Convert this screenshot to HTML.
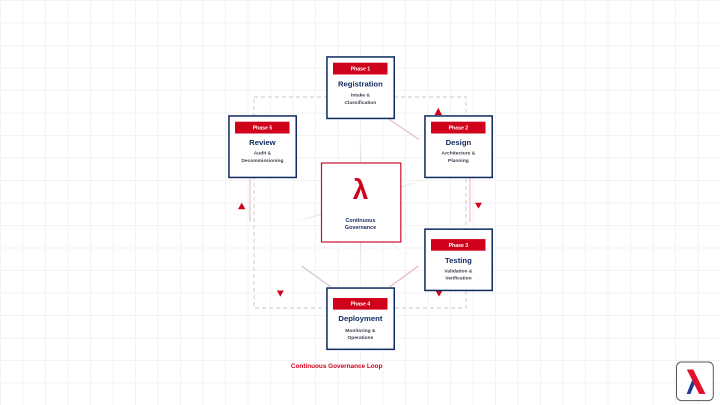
<!DOCTYPE html>
<html><head><meta charset="utf-8"><style>
html,body{margin:0;padding:0;background:#fff;}
svg{display:block;}
text{font-family:"Liberation Sans",sans-serif;font-weight:bold;}
</style></head><body>
<svg width="720" height="405" viewBox="0 0 720 405" xmlns="http://www.w3.org/2000/svg">
<defs>
<radialGradient id="spk" gradientUnits="userSpaceOnUse" cx="360.5" cy="202" r="72">
<stop offset="0" stop-color="#e2c9d4" stop-opacity="1"/>
<stop offset="0.6" stop-color="#e6d0da" stop-opacity="0.7"/>
<stop offset="1" stop-color="#f0e4ea" stop-opacity="0"/>
</radialGradient>
</defs>
<rect width="720" height="405" fill="#fff"/>
<g stroke="#f3f3f3" stroke-width="1">
<line x1="0.5" y1="0" x2="0.5" y2="405"/><line x1="23" y1="0" x2="23" y2="405"/><line x1="45.5" y1="0" x2="45.5" y2="405"/><line x1="68" y1="0" x2="68" y2="405"/><line x1="90.5" y1="0" x2="90.5" y2="405"/><line x1="113" y1="0" x2="113" y2="405"/><line x1="135.5" y1="0" x2="135.5" y2="405"/><line x1="158" y1="0" x2="158" y2="405"/><line x1="180.5" y1="0" x2="180.5" y2="405"/><line x1="203" y1="0" x2="203" y2="405"/><line x1="225.5" y1="0" x2="225.5" y2="405"/><line x1="248" y1="0" x2="248" y2="405"/><line x1="270.5" y1="0" x2="270.5" y2="405"/><line x1="293" y1="0" x2="293" y2="405"/><line x1="315.5" y1="0" x2="315.5" y2="405"/><line x1="338" y1="0" x2="338" y2="405"/><line x1="360.5" y1="0" x2="360.5" y2="405"/><line x1="383" y1="0" x2="383" y2="405"/><line x1="405.5" y1="0" x2="405.5" y2="405"/><line x1="428" y1="0" x2="428" y2="405"/><line x1="450.5" y1="0" x2="450.5" y2="405"/><line x1="473" y1="0" x2="473" y2="405"/><line x1="495.5" y1="0" x2="495.5" y2="405"/><line x1="518" y1="0" x2="518" y2="405"/><line x1="540.5" y1="0" x2="540.5" y2="405"/><line x1="563" y1="0" x2="563" y2="405"/><line x1="585.5" y1="0" x2="585.5" y2="405"/><line x1="608" y1="0" x2="608" y2="405"/><line x1="630.5" y1="0" x2="630.5" y2="405"/><line x1="653" y1="0" x2="653" y2="405"/><line x1="675.5" y1="0" x2="675.5" y2="405"/><line x1="698" y1="0" x2="698" y2="405"/>
<line x1="0" y1="0.5" x2="720" y2="0.5"/><line x1="0" y1="23" x2="720" y2="23"/><line x1="0" y1="45.5" x2="720" y2="45.5"/><line x1="0" y1="68" x2="720" y2="68"/><line x1="0" y1="90.5" x2="720" y2="90.5"/><line x1="0" y1="113" x2="720" y2="113"/><line x1="0" y1="135.5" x2="720" y2="135.5"/><line x1="0" y1="158" x2="720" y2="158"/><line x1="0" y1="180.5" x2="720" y2="180.5"/><line x1="0" y1="203" x2="720" y2="203"/><line x1="0" y1="225.5" x2="720" y2="225.5"/><line x1="0" y1="248" x2="720" y2="248"/><line x1="0" y1="270.5" x2="720" y2="270.5"/><line x1="0" y1="293" x2="720" y2="293"/><line x1="0" y1="315.5" x2="720" y2="315.5"/><line x1="0" y1="338" x2="720" y2="338"/><line x1="0" y1="360.5" x2="720" y2="360.5"/><line x1="0" y1="383" x2="720" y2="383"/>
</g>

<!-- dashed loop -->
<rect x="254" y="97" width="212" height="211" fill="none" stroke="#dcdcdc" stroke-width="1.4" stroke-dasharray="4 3"/>

<!-- spokes -->
<g stroke="url(#spk)" stroke-width="1.3" fill="none">
<line x1="360.5" y1="202" x2="360.5" y2="132"/>
<line x1="360.5" y1="202" x2="426.5" y2="178"/>
<line x1="360.5" y1="202" x2="293.5" y2="222.5"/>
<line x1="360.5" y1="202" x2="403.5" y2="257"/>
<line x1="360.5" y1="202" x2="360.5" y2="272"/>
</g>

<!-- edges -->
<g stroke-width="1.4" fill="none">
<line x1="388" y1="118.5" x2="419" y2="139.5" stroke="#eac6ce"/>
<line x1="470" y1="177.5" x2="470" y2="222" stroke="#efc9d0"/>
<line x1="418.5" y1="266" x2="389.5" y2="287" stroke="#e8c4cd"/>
<line x1="301.5" y1="266" x2="331" y2="287" stroke="#dccbd8"/>
<line x1="250" y1="177.5" x2="250" y2="222" stroke="#eaccd3"/>
</g>

<!-- arrowheads -->
<g fill="#d0021b">
<polygon points="438.3,107.8 434.6,115 442,115"/>
<polygon points="475,202.8 482,202.8 478.5,208.6"/>
<polygon points="435.5,290.5 442.5,290.5 439,296.6"/>
<polygon points="276.8,290.5 283.8,290.5 280.3,296.6"/>
<polygon points="241.7,202.6 238,209.2 245.4,209.2"/>
</g>

<!-- center -->
<rect x="321.5" y="163" width="79.3" height="79" fill="#fff" stroke="#c8102e" stroke-width="1.2"/>
<text x="360.5" y="199" font-size="28" fill="#d0021b" text-anchor="middle">λ</text>
<text x="360.5" y="221.8" font-size="5.4" fill="#1a2f5e" text-anchor="middle">Continuous</text>
<text x="360.5" y="229.2" font-size="5.4" fill="#1a2f5e" text-anchor="middle">Governance</text>

<!-- Phase 1 -->
<g transform="translate(326.2,56.2)">
<rect x="0.75" y="0.75" width="67.3" height="61.5" fill="#fff" stroke="#0f2a5e" stroke-width="1.5"/>
<rect x="6.8" y="6.5" width="54.5" height="11.8" fill="#d0021b"/>
<text x="34.2" y="14.3" font-size="5.2" fill="#fff" text-anchor="middle">Phase 1</text>
<text x="34.2" y="30.2" font-size="7.7" fill="#0f2a5e" text-anchor="middle">Registration</text>
<text x="34.2" y="40.3" font-size="4.9" fill="#3b3f4c" text-anchor="middle">Intake &amp;</text>
<text x="34.2" y="47.9" font-size="4.9" fill="#3b3f4c" text-anchor="middle">Classification</text>
</g>

<!-- Phase 2 -->
<g transform="translate(424.2,115.2)">
<rect x="0.75" y="0.75" width="67.3" height="61.5" fill="#fff" stroke="#0f2a5e" stroke-width="1.5"/>
<rect x="6.8" y="6.5" width="54.5" height="11.8" fill="#d0021b"/>
<text x="34.2" y="14.3" font-size="5.2" fill="#fff" text-anchor="middle">Phase 2</text>
<text x="34.2" y="29.9" font-size="7.7" fill="#0f2a5e" text-anchor="middle">Design</text>
<text x="34.2" y="39.5" font-size="4.9" fill="#3b3f4c" text-anchor="middle">Architecture &amp;</text>
<text x="34.2" y="46.8" font-size="4.9" fill="#3b3f4c" text-anchor="middle">Planning</text>
</g>

<!-- Phase 5 -->
<g transform="translate(228.2,115.2)">
<rect x="0.75" y="0.75" width="67.3" height="61.5" fill="#fff" stroke="#0f2a5e" stroke-width="1.5"/>
<rect x="6.8" y="6.5" width="54.5" height="11.8" fill="#d0021b"/>
<text x="34.2" y="14.3" font-size="5.2" fill="#fff" text-anchor="middle">Phase 5</text>
<text x="34.2" y="29.9" font-size="7.7" fill="#0f2a5e" text-anchor="middle">Review</text>
<text x="34.2" y="39.5" font-size="4.9" fill="#3b3f4c" text-anchor="middle">Audit &amp;</text>
<text x="34.2" y="46.8" font-size="4.9" fill="#3b3f4c" text-anchor="middle">Decommissioning</text>
</g>

<!-- Phase 3 -->
<g transform="translate(424.2,228.4)">
<rect x="0.75" y="0.75" width="67.3" height="61.3" fill="#fff" stroke="#0f2a5e" stroke-width="1.5"/>
<rect x="6.8" y="10.7" width="54.5" height="11.6" fill="#d0021b"/>
<text x="34.2" y="18.4" font-size="5.2" fill="#fff" text-anchor="middle">Phase 3</text>
<text x="34.2" y="34.8" font-size="7.7" fill="#0f2a5e" text-anchor="middle">Testing</text>
<text x="34.2" y="44" font-size="4.9" fill="#3b3f4c" text-anchor="middle">Validation &amp;</text>
<text x="34.2" y="51.3" font-size="4.9" fill="#3b3f4c" text-anchor="middle">Verification</text>
</g>

<!-- Phase 4 -->
<g transform="translate(326.2,287.3)">
<rect x="0.75" y="0.75" width="67.3" height="61.3" fill="#fff" stroke="#0f2a5e" stroke-width="1.5"/>
<rect x="6.8" y="10.7" width="54.5" height="11.6" fill="#d0021b"/>
<text x="34.2" y="18.4" font-size="5.2" fill="#fff" text-anchor="middle">Phase 4</text>
<text x="34.2" y="33.8" font-size="7.7" fill="#0f2a5e" text-anchor="middle">Deployment</text>
<text x="34.2" y="44.5" font-size="4.9" fill="#3b3f4c" text-anchor="middle">Monitoring &amp;</text>
<text x="34.2" y="51.8" font-size="4.9" fill="#3b3f4c" text-anchor="middle">Operations</text>
</g>

<!-- caption -->
<text x="336.7" y="368.2" font-size="6.4" fill="#d0021b" text-anchor="middle">Continuous Governance Loop</text>

<!-- logo -->
<rect x="676.5" y="362" width="36.8" height="38.6" rx="5" fill="#fff" stroke="#5a5a5a" stroke-width="1"/>
<polygon points="686.8,369.5 693.2,369.5 705.5,394 699.2,394" fill="#e0112b"/>
<polygon points="692.2,380 694.4,384.4 690.4,394 686.6,394" fill="#1f3a93"/>
</svg>
</body></html>
